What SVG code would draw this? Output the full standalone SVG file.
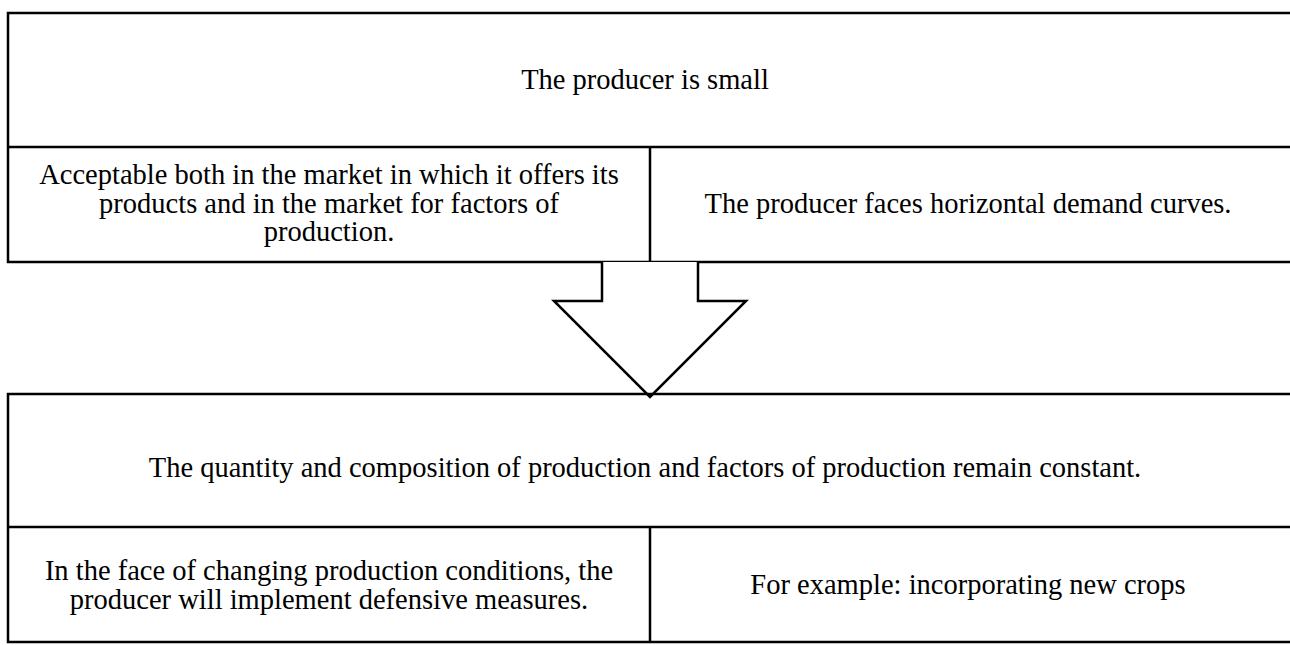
<svg xmlns="http://www.w3.org/2000/svg" width="1290" height="645" viewBox="0 0 1290 645">
  <style>
    .frame { fill: none; stroke: #000; stroke-width: 2.5; }
    .arrow { fill: #fff; stroke: #000; stroke-width: 2.5; stroke-linejoin: miter; }
    .label { font-family: "Liberation Serif", "Times New Roman", serif; font-size: 28.5px; fill: #000; text-anchor: middle; }
  </style>
  <rect width="1290" height="645" fill="#fff"/>

  <!-- Top block: premise and its two conditions -->
  <g id="premise">
    <path class="frame" d="M1292 13 H8 V262 H1292 M8 147 H1292 M650 147 V262"/>
    <text class="label" x="645" y="89">The producer is small</text>
  </g>
  <g id="condition-market">
    <text class="label" x="329" y="184">Acceptable both in the market in which it offers its</text>
    <text class="label" x="329" y="212.5">products and in the market for factors of</text>
    <text class="label" x="329" y="241">production.</text>
  </g>
  <g id="condition-demand">
    <text class="label" x="968" y="213">The producer faces horizontal demand curves.</text>
  </g>

  <!-- Connector: block arrow leading to the consequence -->
  <g id="connectors">
    <path class="arrow" d="M602 262 V301 H554 L650 397 L746 301 H698 V262"/>
  </g>

  <!-- Bottom block: consequence and its two details -->
  <g id="consequence">
    <path class="frame" d="M1292 394 H8 V642 H1292 M8 527 H1292 M650 527 V642"/>
    <text class="label" x="645" y="477">The quantity and composition of production and factors of production remain constant.</text>
  </g>
  <g id="detail-defensive">
    <text class="label" x="329" y="580">In the face of changing production conditions, the</text>
    <text class="label" x="329" y="608.5">producer will implement defensive measures.</text>
  </g>
  <g id="detail-example">
    <text class="label" x="968" y="594">For example: incorporating new crops</text>
  </g>
</svg>
